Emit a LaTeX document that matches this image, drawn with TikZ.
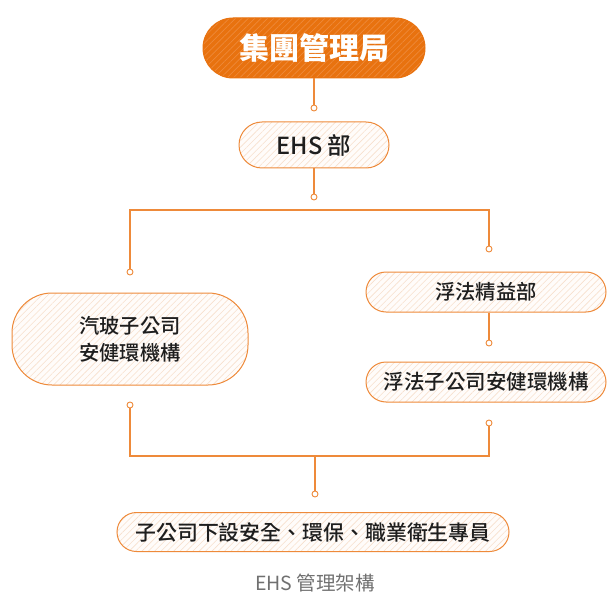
\documentclass[tikz,border=0pt]{standalone}
\usepackage{fontspec}
\setmainfont{Noto Sans CJK TC}
\newfontfamily\medfont{Noto Sans CJK TC Medium}
\usetikzlibrary{patterns.meta}
\definecolor{orangeM}{HTML}{E8720F}
\definecolor{orangeL}{HTML}{EE8A3A}
\definecolor{hatchL}{HTML}{F7E0CD}
\definecolor{bgL}{HTML}{FFFCFA}
\definecolor{txt}{HTML}{1E1E1E}
\definecolor{cap}{HTML}{707070}
\tikzset{
  lightbox/.style={draw=orangeL, line width=1pt, preaction={fill=bgL},
    pattern={Lines[angle=45,distance=4.5pt,line width=0.6pt]}, pattern color=hatchL,
    text=txt, align=center, inner sep=0pt},
  topbox/.style={draw=orangeM, line width=1pt, preaction={fill=orangeM},
    pattern={Lines[angle=45,distance=4.5pt,line width=0.7pt]}, pattern color=orangeL,
    text=white, inner sep=0pt},
  conn/.style={draw=orangeL, line width=1.1pt},
  dot/.style={circle, draw=orangeL, fill=white, line width=0.9pt, minimum size=6pt, inner sep=0pt},
}
\begin{document}
\begin{tikzpicture}[x=1pt,y=-1pt]
\useasboundingbox (0,0) rectangle (610,604);
% nodes
\node[topbox, minimum width=222pt, minimum height=60pt, rounded corners=30pt,
  font=\fontsize{30}{34}\selectfont\bfseries] (top) at (314,48) {集團管理局};
\node[lightbox, minimum width=150pt, minimum height=46pt, rounded corners=23pt,
  font=\medfont\fontsize{23.5}{26}\selectfont] (ehs) at (314,145) {EHS 部};
\node[lightbox, minimum width=236pt, minimum height=92pt, rounded corners=40pt,
  font=\medfont\fontsize{20.3}{27}\selectfont] (left) at (130,339) {汽玻子公司\\安健環機構};
\node[lightbox, minimum width=240pt, minimum height=40pt, rounded corners=20pt,
  font=\medfont\fontsize{20.3}{24}\selectfont] (r1) at (486,292) {浮法精益部};
\node[lightbox, minimum width=240pt, minimum height=40pt, rounded corners=20pt,
  font=\medfont\fontsize{20.5}{24}\selectfont] (r2) at (486,382) {浮法子公司安健環機構};
\node[lightbox, minimum width=392pt, minimum height=39pt, rounded corners=19.5pt,
  font=\medfont\fontsize{20.9}{24}\selectfont] (bot) at (313,532) {子公司下設安全、環保、職業衛生專員};
\node[text=cap, font=\fontsize{19.5}{22}\selectfont] (caption) at (315,583) {EHS 管理架構};
% dots
\node[dot] (c1) at (314,108) {};
\node[dot] (c2) at (314,197) {};
\node[dot] (cL1) at (130,272) {};
\node[dot] (cR1) at (489,249) {};
\node[dot] (c3) at (489,343) {};
\node[dot] (cL2) at (130,405) {};
\node[dot] (cR2) at (489,423) {};
\node[dot] (c4) at (315,494) {};
\coordinate (b1) at (314,210);
\coordinate (b2) at (315,456);
% connectors
\draw[conn] (top.south) -- (c1);
\draw[conn] (ehs.south) -- (c2);
\draw[conn] (cL1) |- (b1) -| (cR1);
\draw[conn] (r1.south -| c3) -- (c3);
\draw[conn] (cL2) |- (b2) -| (cR2);
\draw[conn] (b2) -- (c4);
\end{tikzpicture}
\end{document}
